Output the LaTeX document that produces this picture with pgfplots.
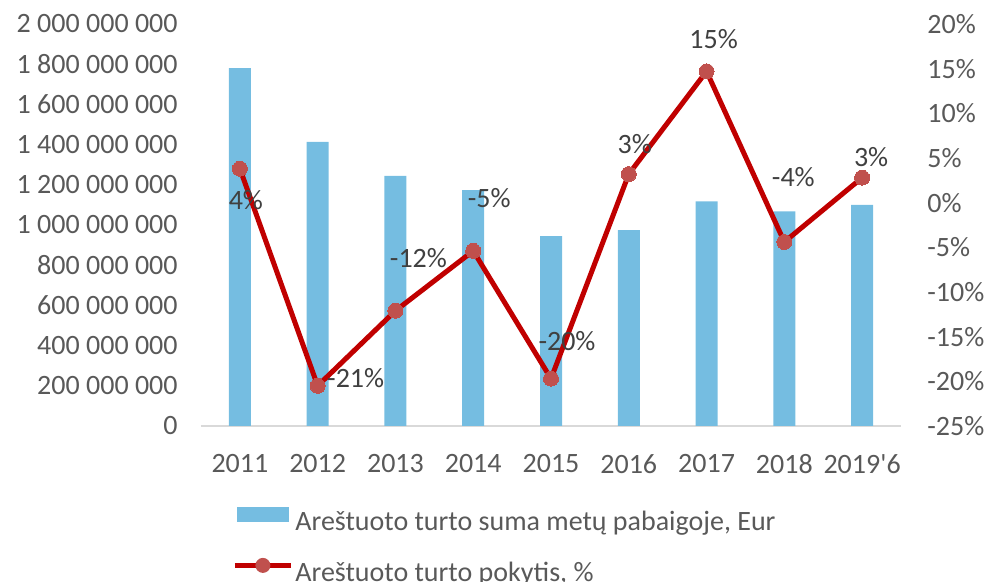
\documentclass[border=0pt]{standalone}
\usepackage{fontspec}
\setmainfont{Carlito}[Ligatures=TeXOff]
\usepackage{pgfplots}
\usepackage{pgfplotstable}
\pgfplotsset{compat=1.18}

\definecolor{barblue}{HTML}{75BDE1}
\definecolor{linered}{HTML}{C00000}
\definecolor{markred}{HTML}{C0504D}
\definecolor{ticktext}{HTML}{595959}
\definecolor{labeltext}{HTML}{404040}
\definecolor{axisgray}{HTML}{D9D9D9}

% arrested assets at year end, EUR
\pgfplotstableread{
x y
0 1781000000
1 1413000000
2 1244000000
3 1174000000
4 945000000
5 974000000
6 1118000000
7 1068000000
8 1100000000
}\sumtable

% yearly change, %; dx/dy = label offset in pt
\pgfplotstableread{
x y lbl dx dy
0 3.8 4 3 -15.5
1 -20.5 -21 19 4
2 -12.1 -12 11.5 26.5
3 -5.4 -5 8 26.5
4 -19.7 -20 8 19
5 3.2 3 3 15
6 14.7 15 3.5 16
7 -4.4 -4 4.5 32.5
8 2.8 3 4.5 10.5
}\changetable

\begin{document}
\begin{tikzpicture}
\useasboundingbox (-100.5pt,-78pt) rectangle (393.5pt,213pt);
\pgfplotsset{
  common/.style={
    width=350pt, height=201pt, scale only axis,
    xmin=-0.5, xmax=8.5,
    font=\fontsize{14}{17}\selectfont,
    tick style={draw=none}, major tick length=0pt,
    ticklabel style={text=ticktext},
  },
}
\begin{axis}[common,
  separate axis lines,
  axis x line*=bottom, axis y line*=left,
  x axis line style={draw=axisgray, line width=1pt},
  y axis line style={draw=none},
  ymin=0, ymax=2000000000,
  scaled y ticks=false,
  ytick={0,200000000,400000000,600000000,800000000,1000000000,1200000000,1400000000,1600000000,1800000000,2000000000},
  yticklabels={0,200 000 000,400 000 000,600 000 000,800 000 000,1 000 000 000,1 200 000 000,1 400 000 000,1 600 000 000,1 800 000 000,2 000 000 000},
  xtick={0,1,2,3,4,5,6,7,8},
  xticklabels={2011,2012,2013,2014,2015,2016,2017,2018,2019'6},
  yticklabel style={anchor=east, inner sep=0pt, xshift=-11.5pt},
  xticklabel style={anchor=north, inner sep=0pt, yshift=-14pt},
]
\addplot[ybar, bar width=11pt, fill=barblue, draw=none] table[x=x, y=y] {\sumtable};
\end{axis}

\begin{axis}[common,
  axis x line=none, axis y line*=right,
  y axis line style={draw=none},
  ymin=-25, ymax=20,
  ytick={-25,-20,-15,-10,-5,0,5,10,15,20},
  yticklabels={-25\%,-20\%,-15\%,-10\%,-5\%,0\%,5\%,10\%,15\%,20\%},
  yticklabel style={anchor=west, inner sep=0pt, xshift=13pt},
  legend cell align=left,
  legend style={draw=none, fill=none,
    at={(axis description cs:0.0443,-0.2015)}, anchor=north west,
    inner sep=0pt, row sep=10.5pt, column sep=1pt,
    nodes={inner sep=0pt, text height=10pt, text depth=3pt, text=ticktext,
      font=\fontsize{14}{17}\selectfont}},
]
\addlegendimage{legend image code/.code={\path[fill=barblue, draw=none] (1pt,0.75pt) rectangle (27pt,8.25pt);}}
\addlegendentry{Areštuoto turto suma metų pabaigoje, Eur}
\addplot[linered, line width=2.5pt, mark=*, mark size=3.75pt,
  mark options={fill=markred, draw=markred, line width=0pt},
  point meta=explicit symbolic,
  nodes near coords={\pgfplotspointmeta\%},
  visualization depends on={\thisrow{dx} \as \dx},
  visualization depends on={\thisrow{dy} \as \dy},
  every node near coord/.append style={anchor=center, inner sep=0pt,
    xshift=\dx pt, yshift=\dy pt, text=labeltext,
    font=\fontsize{14}{17}\selectfont},
  legend image code/.code={
    \path[draw=linered, line width=2.5pt] (0pt,4.5pt) -- (28pt,4.5pt);
    \path[fill=markred, draw=none] (14pt,4.5pt) circle[radius=3.75pt];},
] table[x=x, y=y, meta=lbl] {\changetable};
\addlegendentry{Areštuoto turto pokytis, \%}
\end{axis}
\end{tikzpicture}
\end{document}
